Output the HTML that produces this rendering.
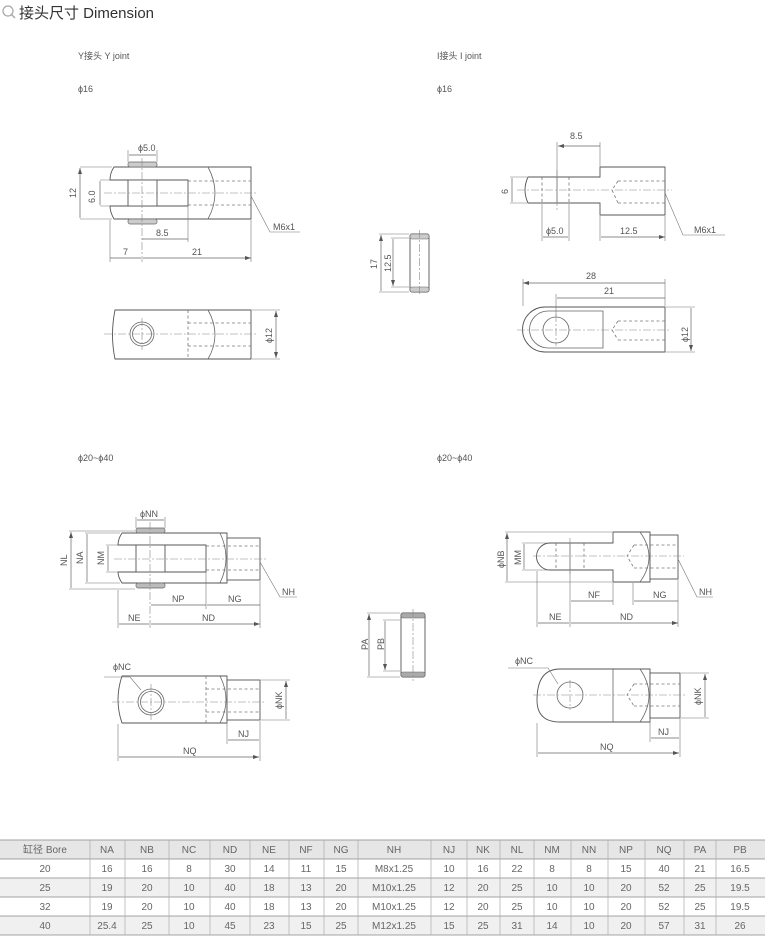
<!DOCTYPE html>
<html><head><meta charset="utf-8"><style>
html,body{margin:0;padding:0;background:#fff;}
svg{display:block;font-family:"Liberation Sans","Noto Sans CJK SC",sans-serif;}
.l{stroke:#666;stroke-width:.8;fill:none}
.b{stroke:#555;stroke-width:.9;fill:#fff}
.d{stroke:#777;stroke-width:.8;fill:none;stroke-dasharray:3 2.5}
.c{stroke:#888;stroke-width:.6;fill:none;stroke-dasharray:8 2 2 2}
.m{stroke:#666;stroke-width:.7;fill:none;marker-start:url(#a);marker-end:url(#a)}
.e{stroke:#777;stroke-width:.6;fill:none}
text{fill:#555;font-size:9px}
.t{fill:#666;font-size:10px}
</style></head><body>
<svg width="765" height="936" viewBox="0 0 765 936">
<defs><marker id="a" viewBox="0 0 6 4" refX="6" refY="2" markerWidth="6" markerHeight="4" orient="auto-start-reverse" markerUnits="userSpaceOnUse"><path d="M0,0L6,2L0,4z" fill="#555"/></marker></defs>
<!-- title -->
<circle cx="8" cy="11" r="5" fill="none" stroke="#aaa" stroke-width="1.3"/><path d="M11,14L15,18" stroke="#aaa" stroke-width="1.5"/>
<text x="19" y="18" style="font-size:15px;fill:#333">接头尺寸 Dimension</text>
<text x="78" y="59">Y接头  Y joint</text><text x="78" y="92">ϕ16</text>
<text x="437" y="59">I接头  I joint</text><text x="437" y="92">ϕ16</text>
<text x="78" y="461">ϕ20~ϕ40</text><text x="437" y="461">ϕ20~ϕ40</text>

<!-- Y16 top -->
<path class="b" d="M114,167H251V219H114Q110,212 110,206H188V180H110Q110,173 114,167Z"/>
<path class="l" d="M208,167Q222,193 208,219"/>
<rect class="b" x="128" y="180" width="29" height="26"/>
<rect x="128" y="162" width="29" height="5" rx="2" fill="#ccc" stroke="#666" stroke-width=".7"/>
<rect x="128" y="219" width="29" height="5" rx="2" fill="#ccc" stroke="#666" stroke-width=".7"/>
<path class="d" d="M188,181H251M188,205H251"/>
<path class="c" d="M104,193H258M142,158V262"/>
<path class="e" d="M80,167H112M80,219H112M100,180H110M100,206H110M128,150V162M157,150V162M110,220V262M188,206V242M251,220V262"/>
<path class="m" d="M80,168V218M100,181V205M129,155H156M142,239H188M110,258H141M143,258H251"/>
<text x="0" y="0" transform="translate(76,198) rotate(-90)">12</text>
<text x="0" y="0" transform="translate(95,203) rotate(-90)">6.0</text>
<text x="138" y="151">ϕ5.0</text><text x="156" y="236">8.5</text><text x="123" y="255">7</text><text x="192" y="255">21</text>
<path class="e" d="M251,196L270,232H300"/><text x="273" y="230">M6x1</text>
<!-- Y16 bottom -->
<path class="b" d="M115,310H251V359H115Q110,335 115,310Z"/>
<path class="l" d="M208,310Q222,335 208,359"/>
<circle class="l" cx="142" cy="334" r="12"/><circle class="l" cx="142" cy="334" r="9.5"/>
<path class="d" d="M188,310V359M188,323H251M188,346H251"/>
<path class="c" d="M104,334H258M142,318V350"/>
<path class="e" d="M252,310H280M252,359H280"/><path class="m" d="M276,311V358"/>
<text x="0" y="0" transform="translate(272,343) rotate(-90)">ϕ12</text>

<!-- pin 16 -->
<rect class="b" x="410" y="234" width="19" height="58" rx="2"/>
<rect x="410" y="234" width="19" height="5" rx="2" fill="#ccc" stroke="#666" stroke-width=".6"/>
<rect x="410" y="287" width="19" height="5" rx="2" fill="#ccc" stroke="#666" stroke-width=".6"/>
<path class="c" d="M419.5,230V296"/>
<path class="e" d="M379,234H409M391,238H409M391,287H409M379,292H409"/>
<path class="m" d="M381,235V291M393,239V286"/>
<text x="0" y="0" transform="translate(377,269) rotate(-90)">17</text>
<text x="0" y="0" transform="translate(391,272) rotate(-90)">12.5</text>

<!-- I16 top -->
<path class="b" d="M528,177H600V167H665V215H600V203H528Q522,190 528,177Z"/>
<path class="d" d="M542,177V203M569,177V203M618,181H665M618,203H665M618,181L612,190L618,203"/>
<path class="l" d="M557,177V203"/>
<path class="c" d="M517,190H672M557,170V210"/>
<path class="e" d="M557,142V176M600,142V166M510,177H527M510,203H527M542,204V241M569,204V241M600,216V241M665,216V241"/>
<path class="m" d="M558,146H600M512,178V202M543,237H568M601,237H665"/>
<text x="570" y="139">8.5</text>
<text x="0" y="0" transform="translate(508,194) rotate(-90)">6</text>
<text x="546" y="234">ϕ5.0</text><text x="620" y="234">12.5</text>
<path class="e" d="M665,193L683,235H725"/><text x="694" y="233">M6x1</text>
<!-- I16 bottom -->
<path class="b" d="M545,307H665V352H545A22.5,22.5 0 0 1 545,307Z"/>
<path class="l" d="M548,311H603V348H548A18.5,18.5 0 0 1 548,311Z"/>
<circle class="l" cx="556" cy="330" r="13"/>
<path class="d" d="M618,321H665M618,340H665M618,321L612,330L618,340"/>
<path class="c" d="M517,330H670M556,314V346"/>
<path class="e" d="M523,279V306M665,279V306M556,294V316M666,307H695M666,352H695"/>
<path class="m" d="M523,283H665M557,298H665M691,308V351"/>
<text x="586" y="279">28</text><text x="604" y="294">21</text>
<text x="0" y="0" transform="translate(688,342) rotate(-90)">ϕ12</text>

<!-- Y20 top -->
<path class="b" d="M122,533H227V583H122Q118,577 118,572H206V545H118Q118,539 122,533Z"/>
<rect class="b" x="227" y="538" width="33" height="42"/>
<path class="l" d="M220,533Q232,558 220,583"/>
<rect class="b" x="136" y="545" width="29" height="27"/>
<rect x="136" y="528" width="29" height="5" rx="2" fill="#bbb" stroke="#666" stroke-width=".7"/>
<rect x="136" y="583" width="29" height="5" rx="2" fill="#bbb" stroke="#666" stroke-width=".7"/>
<path class="d" d="M206,546H260M206,570H260"/>
<path class="c" d="M114,559H266M150,522V628"/>
<path class="e" d="M69,531H135M85,533H120M106,545H118M69,589H135M85,583H120M106,572H118M136,517V528M165,517V528M118,590V628M206,572V609M260,581V628"/>
<path class="m" d="M71,532V588M87,534V582M108,546V571M137,520H164M151,605H206M207,605H260M119,624H149M151,624H260"/>
<text x="0" y="0" transform="translate(67,566) rotate(-90)">NL</text>
<text x="0" y="0" transform="translate(83,564) rotate(-90)">NA</text>
<text x="0" y="0" transform="translate(104,565) rotate(-90)">NM</text>
<text x="140" y="517">ϕNN</text><text x="172" y="602">NP</text><text x="228" y="602">NG</text>
<text x="128" y="621">NE</text><text x="202" y="621">ND</text>
<path class="e" d="M260,562L280,597H297"/><text x="282" y="595">NH</text>
<!-- Y20 bottom -->
<path class="b" d="M122,676H227V723H122Q114,700 122,676Z"/>
<rect class="b" x="227" y="680" width="33" height="40"/>
<path class="l" d="M220,676Q232,700 220,723"/>
<circle class="l" cx="151" cy="702" r="13"/><circle class="l" cx="151" cy="702" r="10.5"/>
<path class="d" d="M206,676V723M206,689H260M206,712H260"/>
<path class="c" d="M112,702H266M151,684V720"/>
<path class="e" d="M261,680H290M261,720H290M227,721V744M260,721V761M118,724V761"/>
<path class="m" d="M286,681V719M228,740H259M119,757H259"/>
<text x="0" y="0" transform="translate(282,709) rotate(-90)">ϕNK</text>
<text x="238" y="737">NJ</text><text x="183" y="754">NQ</text>
<text x="113" y="670">ϕNC</text><path class="e" d="M104,677H130L141,690"/>

<!-- pin 20 -->
<rect class="b" x="401" y="613" width="24" height="64" rx="2"/>
<rect x="401" y="613" width="24" height="5" rx="2" fill="#aaa" stroke="#666" stroke-width=".6"/>
<rect x="401" y="672" width="24" height="5" rx="2" fill="#aaa" stroke="#666" stroke-width=".6"/>
<path class="c" d="M413,609V681"/>
<path class="e" d="M367,613H400M383,620H400M383,671H400M367,677H400"/>
<path class="m" d="M369,614V676M385,621V670"/>
<text x="0" y="0" transform="translate(368,650) rotate(-90)">PA</text>
<text x="0" y="0" transform="translate(384,650) rotate(-90)">PB</text>

<!-- I20 top -->
<path class="b" d="M550,543H613V532H650V582H613V570H550A13.5,13.5 0 0 1 550,543Z"/>
<rect class="b" x="650" y="535" width="28" height="44"/>
<path class="l" d="M640,532Q658,557 640,582"/>
<path class="d" d="M556,543V570M584,543V570M634,545H678M634,568H678M634,545L627,556L634,568"/>
<path class="l" d="M570,543V570"/>
<path class="c" d="M533,556H684M570,538V574"/>
<path class="e" d="M505,532H612M505,582H612M522,543H548M522,570H548M570,571V627M613,583V605M633,583V605M678,580V627M537,571V627"/>
<path class="m" d="M507,533V581M524,544V569M571,601H613M634,601H678M538,623H569M571,623H678"/>
<text x="0" y="0" transform="translate(504,568) rotate(-90)">ϕNB</text>
<text x="0" y="0" transform="translate(521,565) rotate(-90)">MM</text>
<text x="588" y="598">NF</text><text x="653" y="598">NG</text>
<text x="549" y="620">NE</text><text x="620" y="620">ND</text>
<path class="e" d="M678,559L697,597H713"/><text x="699" y="595">NH</text>
<!-- I20 bottom -->
<path class="b" d="M560,669H650V722H560Q537,722 537,700Q537,669 560,669Z"/>
<rect class="b" x="650" y="673" width="30" height="45"/>
<path class="l" d="M613,669V722M640,669Q658,695 640,722"/>
<circle class="l" cx="570" cy="695" r="13"/>
<path class="d" d="M634,684H680M634,706H680M634,684L627,695L634,706"/>
<path class="c" d="M533,695H686M570,680V710"/>
<path class="e" d="M681,673H709M681,718H709M650,719V742M680,719V757M537,723V757"/>
<path class="m" d="M705,674V717M651,738H679M538,753H679"/>
<text x="0" y="0" transform="translate(701,705) rotate(-90)">ϕNK</text>
<text x="658" y="735">NJ</text><text x="600" y="750">NQ</text>
<text x="515" y="664">ϕNC</text><path class="e" d="M508,668H548L558,684"/>

<!-- table -->
<g>
<rect x="0" y="840" width="765" height="19" fill="#e6e6e6"/>
<rect x="0" y="878" width="765" height="19" fill="#f0f0f0"/>
<rect x="0" y="916" width="765" height="19" fill="#f0f0f0"/>
<path d="M0,840H765M0,859H765M0,878H765M0,897H765M0,916H765M0,935H765" stroke="#888" stroke-width=".8"/>
<path d="M90,840V935M125,840V935M169,840V935M210,840V935M250,840V935M289,840V935M324,840V935M358,840V935M431,840V935M467,840V935M500,840V935M534,840V935M571,840V935M608,840V935M645,840V935M684,840V935M716,840V935" stroke="#aaa" stroke-width=".7"/>
<g class="t" text-anchor="middle" style="fill:#666;font-size:10px">
<text x="45" y="853" class="t">缸径 Bore</text>
<text x="107" y="853" class="t">NA</text><text x="147" y="853" class="t">NB</text><text x="189" y="853" class="t">NC</text><text x="230" y="853" class="t">ND</text><text x="269" y="853" class="t">NE</text><text x="306" y="853" class="t">NF</text><text x="341" y="853" class="t">NG</text><text x="394" y="853" class="t">NH</text><text x="449" y="853" class="t">NJ</text><text x="483" y="853" class="t">NK</text><text x="517" y="853" class="t">NL</text><text x="552" y="853" class="t">NM</text><text x="589" y="853" class="t">NN</text><text x="626" y="853" class="t">NP</text><text x="664" y="853" class="t">NQ</text><text x="700" y="853" class="t">PA</text><text x="740" y="853" class="t">PB</text>
<text x="45" y="872" class="t">20</text><text x="107" y="872" class="t">16</text><text x="147" y="872" class="t">16</text><text x="189" y="872" class="t">8</text><text x="230" y="872" class="t">30</text><text x="269" y="872" class="t">14</text><text x="306" y="872" class="t">11</text><text x="341" y="872" class="t">15</text><text x="394" y="872" class="t">M8x1.25</text><text x="449" y="872" class="t">10</text><text x="483" y="872" class="t">16</text><text x="517" y="872" class="t">22</text><text x="552" y="872" class="t">8</text><text x="589" y="872" class="t">8</text><text x="626" y="872" class="t">15</text><text x="664" y="872" class="t">40</text><text x="700" y="872" class="t">21</text><text x="740" y="872" class="t">16.5</text>
<text x="45" y="891" class="t">25</text><text x="107" y="891" class="t">19</text><text x="147" y="891" class="t">20</text><text x="189" y="891" class="t">10</text><text x="230" y="891" class="t">40</text><text x="269" y="891" class="t">18</text><text x="306" y="891" class="t">13</text><text x="341" y="891" class="t">20</text><text x="394" y="891" class="t">M10x1.25</text><text x="449" y="891" class="t">12</text><text x="483" y="891" class="t">20</text><text x="517" y="891" class="t">25</text><text x="552" y="891" class="t">10</text><text x="589" y="891" class="t">10</text><text x="626" y="891" class="t">20</text><text x="664" y="891" class="t">52</text><text x="700" y="891" class="t">25</text><text x="740" y="891" class="t">19.5</text>
<text x="45" y="910" class="t">32</text><text x="107" y="910" class="t">19</text><text x="147" y="910" class="t">20</text><text x="189" y="910" class="t">10</text><text x="230" y="910" class="t">40</text><text x="269" y="910" class="t">18</text><text x="306" y="910" class="t">13</text><text x="341" y="910" class="t">20</text><text x="394" y="910" class="t">M10x1.25</text><text x="449" y="910" class="t">12</text><text x="483" y="910" class="t">20</text><text x="517" y="910" class="t">25</text><text x="552" y="910" class="t">10</text><text x="589" y="910" class="t">10</text><text x="626" y="910" class="t">20</text><text x="664" y="910" class="t">52</text><text x="700" y="910" class="t">25</text><text x="740" y="910" class="t">19.5</text>
<text x="45" y="929" class="t">40</text><text x="107" y="929" class="t">25.4</text><text x="147" y="929" class="t">25</text><text x="189" y="929" class="t">10</text><text x="230" y="929" class="t">45</text><text x="269" y="929" class="t">23</text><text x="306" y="929" class="t">15</text><text x="341" y="929" class="t">25</text><text x="394" y="929" class="t">M12x1.25</text><text x="449" y="929" class="t">15</text><text x="483" y="929" class="t">25</text><text x="517" y="929" class="t">31</text><text x="552" y="929" class="t">14</text><text x="589" y="929" class="t">10</text><text x="626" y="929" class="t">20</text><text x="664" y="929" class="t">57</text><text x="700" y="929" class="t">31</text><text x="740" y="929" class="t">26</text>
</g>
</g>
</svg>
</body></html>
